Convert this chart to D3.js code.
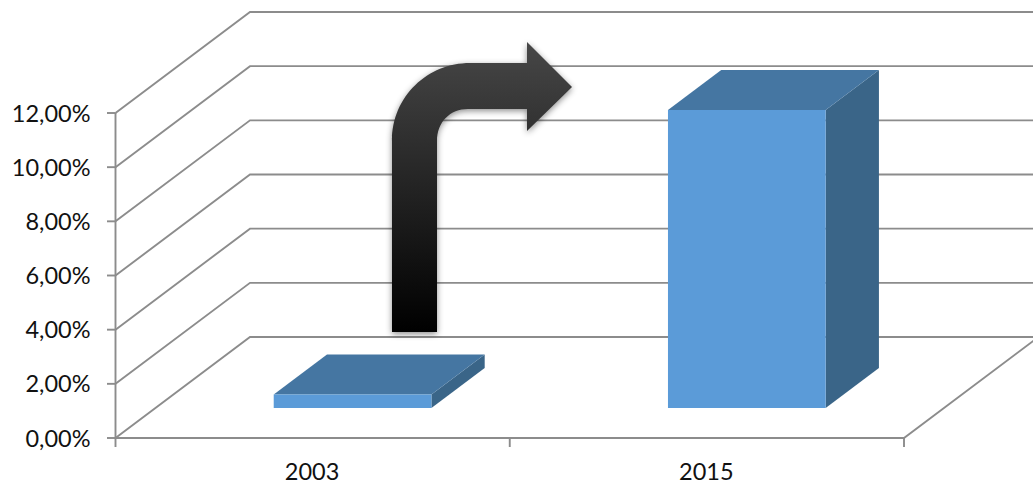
<!DOCTYPE html>
<html>
<head>
<meta charset="utf-8">
<script src="https://cdn.jsdelivr.net/npm/d3@7"></script>
<style>
html,body{margin:0;padding:0;background:#fff;overflow:hidden}
svg{display:block}
text{font-family:Lato,"Open Sans",sans-serif;fill:#111}
</style>
</head>
<body>
<svg id="chart" width="1033" height="484"></svg>
<script>
const categories = ["2003", "2015"];
const values = [0.5, 11];
const yTicks = [0, 2, 4, 6, 8, 10, 12];
const tickLabels = ["0,00%", "2,00%", "4,00%", "6,00%", "8,00%", "10,00%", "12,00%"];

const W = 1033, H = 484;
const depthX = 134.5, depthY = -101;   // oblique projection of the full floor depth
const barZ0 = 0.297, barZ1 = 0.693;    // bar's front and back position in depth

const svg = d3.select("#chart");
const x = d3.scaleBand().domain(categories).range([115.5, 904]).paddingInner(0.6).paddingOuter(0.3);
const xEdge = d3.scalePoint().domain(d3.range(categories.length + 1)).range([115.5, 904]);
const y = d3.scaleLinear().domain([0, 12]).range([438, 113]);
const proj = (px, val, z) => [px + depthX * z, y(val) + depthY * z];
const line = d3.line();

const defs = svg.append("defs");
const grad = defs.append("linearGradient").attr("id", "arrowFill").attr("x1", 0).attr("y1", 0).attr("x2", 0).attr("y2", 1);
grad.append("stop").attr("offset", "0%").attr("stop-color", "#474747");
grad.append("stop").attr("offset", "100%").attr("stop-color", "#000");
const shadow = defs.append("filter").attr("id", "arrowShadow").attr("x", "-20%").attr("y", "-20%").attr("width", "140%").attr("height", "140%")
  .attr("color-interpolation-filters", "sRGB");
shadow.append("feDropShadow").attr("dx", 0).attr("dy", 2).attr("stdDeviation", 3).attr("flood-color", "#000").attr("flood-opacity", 0.45);
const soft = defs.append("filter").attr("id", "soft").attr("color-interpolation-filters", "sRGB");
soft.append("feGaussianBlur").attr("stdDeviation", 0.35);

const frame = svg.append("g").attr("fill", "none").attr("stroke", "#8c8c8c").attr("stroke-width", 1.9).attr("filter", "url(#soft)");

// back wall gridlines and side wall diagonals
frame.selectAll("path.grid").data(yTicks).join("path").attr("class", "grid")
  .attr("d", t => line([[x.range()[0], y(t)], proj(x.range()[0], t, 1), [W + 10, y(t) + depthY]]));

// axes
frame.append("path").attr("d", line([[x.range()[0], y(12)], [x.range()[0], y(0)], [x.range()[1], y(0)], proj(x.range()[1], 0, 1)]));
frame.selectAll("path.ytick").data(yTicks).join("path").attr("class", "ytick")
  .attr("d", t => line([[107, y(t)], [115.5, y(t)]]));
frame.selectAll("path.xtick").data(xEdge.domain()).join("path").attr("class", "xtick")
  .attr("d", i => line([[xEdge(i), y(0)], [xEdge(i), y(0) + 9]]));

// bars
const bars = svg.selectAll("g.bar").data(categories.map((c, i) => ({c, v: values[i]}))).join("g").attr("class", "bar");
const L = d => x(d.c), R = d => x(d.c) + x.bandwidth();
bars.append("path").attr("fill", "#3a6588")
  .attr("d", d => line([proj(R(d), 0, barZ0), proj(R(d), 0, barZ1), proj(R(d), d.v, barZ1), proj(R(d), d.v, barZ0)]) + "Z");
bars.append("path").attr("fill", "#4576a2")
  .attr("d", d => line([proj(L(d), d.v, barZ0), proj(L(d), d.v, barZ1), proj(R(d), d.v, barZ1), proj(R(d), d.v, barZ0)]) + "Z");
bars.append("path").attr("fill", "#5b9bd8")
  .attr("d", d => line([proj(L(d), 0, barZ0), proj(R(d), 0, barZ0), proj(R(d), d.v, barZ0), proj(L(d), d.v, barZ0)]) + "Z");

// annotation arrow
const ap = d3.path();
ap.moveTo(392, 332);
ap.lineTo(392, 141);
ap.bezierCurveTo(392, 96, 428, 63, 470, 63);
ap.lineTo(527, 63);
ap.lineTo(527, 42);
ap.lineTo(572, 87);
ap.lineTo(527, 131);
ap.lineTo(527, 109);
ap.lineTo(468, 109);
ap.bezierCurveTo(450, 109, 437, 122, 437, 141);
ap.lineTo(437, 332);
ap.closePath();
svg.append("path").attr("d", ap.toString()).attr("fill", "url(#arrowFill)").attr("filter", "url(#arrowShadow)");

// labels
svg.selectAll("text.yl").data(yTicks).join("text").attr("class", "yl")
  .attr("x", 90.5).attr("y", t => y(t) + 8.5).attr("text-anchor", "end").attr("font-size", 23.5)
  .text((t, i) => tickLabels[i]);
svg.selectAll("text.xl").data(categories).join("text").attr("class", "xl")
  .attr("x", c => x(c) + x.bandwidth() / 2 - 0.5).attr("y", 480).attr("text-anchor", "middle").attr("font-size", 23.5)
  .text(c => c);
</script>
</body>
</html>
